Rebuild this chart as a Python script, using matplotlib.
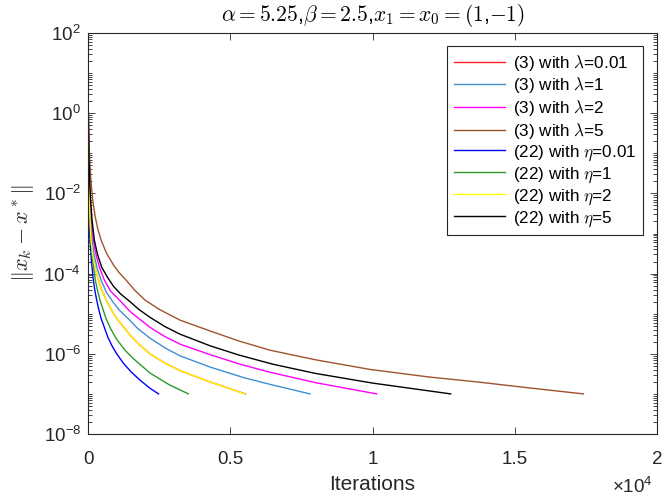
# -*- coding: utf-8 -*-
''' Convergence of ||x_k - x*|| for schemes (3) and (22). '''

import numpy as np
import matplotlib
matplotlib.use('Agg')
import matplotlib.pyplot as plt
from matplotlib.ticker import FixedLocator, LogLocator, NullFormatter, FuncFormatter

###############################################################################
# data (iterations, log10 of the error)
###############################################################################
it_red = [1, 8, 20, 30, 45, 70, 105, 160, 230, 340, 480, 657, 850, 1043, 1500,
          1800, 2179, 2700, 3233, 4288, 5530]
le_red = [0.0, -0.21, -1.24, -1.70, -2.16, -2.66, -3.16, -3.50, -3.79, -4.1, -4.40,
          -4.68, -4.94, -5.15, -5.55, -5.77, -6.0, -6.23, -6.42, -6.7, -7.0]

it_lblue = [1, 10, 25, 40, 60, 95, 140, 220, 320, 457, 650, 890, 1100, 1394, 1750,
            2179, 2700, 3233, 4288, 5500, 6500, 7803]
le_lblue = [0.0, -0.22, -1.21, -1.74, -2.16, -2.70, -3.16, -3.54, -3.86, -4.16, -4.47,
            -4.72, -4.91, -5.11, -5.37, -5.61, -5.85, -6.05, -6.33, -6.6, -6.78, -7.0]

it_mag = [1, 12, 30, 50, 75, 120, 187, 280, 400, 574, 800, 1184, 1500, 1804, 2179,
          2700, 3233, 4288, 5300, 6397, 8000, 10148]
le_mag = [0.05, -0.17, -1.17, -1.72, -2.16, -2.66, -3.16, -3.52, -3.84, -4.16, -4.44,
          -4.72, -4.96, -5.13, -5.34, -5.57, -5.76, -6.02, -6.25, -6.46, -6.72, -7.0]

it_brown = [1, 10, 20, 40, 60, 100, 165, 250, 340, 457, 650, 900, 1100, 1336, 1650,
            2004, 2500, 3233, 4288, 5300, 6397, 8000, 9913, 12000, 13663, 15500, 17410]
le_brown = [0.2, 0.1, -0.15, -0.77, -1.19, -1.67, -2.16, -2.57, -2.87, -3.16, -3.49,
            -3.79, -3.98, -4.16, -4.42, -4.66, -4.89, -5.16, -5.43, -5.68, -5.91,
            -6.15, -6.39, -6.58, -6.70, -6.85, -7.0]

it_blue = [1, 5, 12, 20, 30, 48, 75, 120, 187, 250, 306, 370, 457, 700, 850, 1009,
           1250, 1500, 1800, 2179, 2480]
le_blue = [0.3, -0.25, -1.2, -1.75, -2.2, -2.71, -3.2, -3.69, -4.16, -4.46, -4.66,
           -4.87, -5.11, -5.59, -5.81, -6.0, -6.24, -6.44, -6.64, -6.86, -7.0]

it_green = [1, 6, 16, 27, 41, 65, 102, 160, 257, 350, 446, 633, 800, 1000, 1300,
            1593, 2179, 2850, 3527]
le_green = [0.1, -0.1, -1.14, -1.71, -2.16, -2.66, -3.16, -3.65, -4.16, -4.47, -4.72,
            -5.12, -5.38, -5.63, -5.91, -6.12, -6.48, -6.77, -7.0]

it_yellow = [1, 8, 20, 30, 45, 70, 105, 160, 230, 340, 480, 657, 850, 1043, 1500,
             1800, 2179, 2700, 3233, 4288, 5519]
le_yellow = [0.0, -0.21, -1.24, -1.70, -2.16, -2.66, -3.16, -3.50, -3.79, -4.1, -4.40,
             -4.68, -4.94, -5.15, -5.55, -5.77, -6.0, -6.23, -6.42, -6.7, -7.0]

it_black = [1, 15, 35, 60, 90, 140, 222, 330, 480, 692, 900, 1150, 1476, 1800, 2179,
            2700, 3233, 4288, 5300, 6500, 8000, 10000, 12750]
le_black = [0.15, -0.21, -1.13, -1.72, -2.16, -2.65, -3.16, -3.51, -3.84, -4.10, -4.32,
            -4.51, -4.7, -4.90, -5.09, -5.32, -5.51, -5.8, -6.03, -6.26, -6.49, -6.73, -7.0]

labels = ['(3) with $\\lambda$=0.01', '(3) with $\\lambda$=1',
          '(3) with $\\lambda$=2', '(3) with $\\lambda$=5',
          '(22) with $\\eta$=0.01', '(22) with $\\eta$=1',
          '(22) with $\\eta$=2', '(22) with $\\eta$=5']
colors = ['#ff2020', '#3d8fd1', '#ff00ff', '#a0522d',
          '#0000ff', '#2a9a2a', '#ffff00', '#000000']

x_ticks = [0, 5000, 10000, 15000, 20000]
x_ticklabels = ['0', '0.5', '1', '1.5', '2']
y_ticks = [1e-8, 1e-6, 1e-4, 1e-2, 1e0, 1e2]

plt.rcParams['font.family'] = ['Liberation Sans', 'DejaVu Sans']
plt.rcParams['mathtext.fontset'] = 'cm'
axcol = '#262626'


def make_plot():
    fig = plt.figure(figsize=(6.63, 5.03), dpi=100)
    ax = fig.add_axes([88 / 663, 1 - 434 / 503, 569 / 663, 401 / 503])

    series = [(it_red, le_red), (it_lblue, le_lblue), (it_mag, le_mag),
              (it_brown, le_brown), (it_blue, le_blue), (it_green, le_green),
              (it_yellow, le_yellow), (it_black, le_black)]
    for (it, le), c, lab in zip(series, colors, labels):
        ax.plot(it, 10 ** np.array(le), color=c, lw=1.0, label=lab)

    ax.set_yscale('log')
    ax.set_xlim(0, 20000)
    ax.set_ylim(1e-8, 1e2)

    ax.xaxis.set_major_locator(FixedLocator(x_ticks))
    ax.set_xticklabels(x_ticklabels)
    ax.yaxis.set_major_locator(FixedLocator(y_ticks))
    ax.yaxis.set_major_formatter(FuncFormatter(
        lambda v, p: '$\\mathregular{10^{%d}}$' % int(round(np.log10(v)))))
    ax.yaxis.set_minor_locator(LogLocator(base=10, subs=np.arange(1, 10), numticks=100))
    ax.yaxis.set_minor_formatter(NullFormatter())

    ax.tick_params(which='both', direction='in', top=True, right=True,
                   colors=axcol, labelsize=13.5, width=0.6)
    ax.tick_params(axis='x', which='major', length=5, pad=12)
    ax.tick_params(axis='y', which='major', length=5, pad=5)
    ax.tick_params(which='minor', length=3)
    for s in ax.spines.values():
        s.set_color(axcol)
        s.set_linewidth(0.8)

    ax.set_xlabel('Iterations', fontsize=15, color=axcol, labelpad=5)
    ax.set_ylabel('$\\|x_k-x^*\\|$', fontsize=16, color=axcol, labelpad=5)
    ax.set_title('$\\alpha=5.25$,$\\beta=2.5$,$x_1=x_0=(1$,$-1)$', fontsize=15.5, pad=9)
    ax.text(0.956, -0.132, '$\\mathregular{\u00d710^{4}}$', transform=ax.transAxes,
            ha='center', va='center', fontsize=13.5, color=axcol)

    leg = ax.legend(loc='upper right', bbox_to_anchor=(0.975, 0.9676),
                    borderaxespad=0, fontsize=12.3, handlelength=3.0,
                    handletextpad=0.45, labelspacing=0.15, borderpad=0.4,
                    fancybox=False, framealpha=1)
    leg.get_frame().set_edgecolor(axcol)
    leg.get_frame().set_linewidth(0.8)

    fig.savefig('out.png', dpi=100)


if __name__ == '__main__':
    make_plot()
